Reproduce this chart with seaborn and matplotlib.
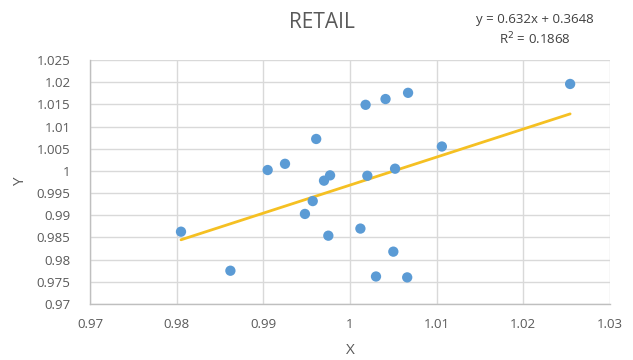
import matplotlib
matplotlib.use("Agg")
import matplotlib.pyplot as plt
import seaborn as sns
import numpy as np
import pandas as pd

# Observations
x_vals = [0.9805, 0.9862, 0.9905, 0.9925, 0.9948, 0.9957, 0.9961, 0.9970, 0.9977,
          0.9975, 1.0012, 1.0018, 1.0020, 1.0030, 1.0041, 1.0052, 1.0050, 1.0067,
          1.0066, 1.0106, 1.0254]
y_vals = [0.9863, 0.9775, 1.0002, 1.0016, 0.9903, 0.9932, 1.0072, 0.9978, 0.9990,
          0.9854, 0.9870, 1.0149, 0.9989, 0.9762, 1.0162, 1.0005, 0.9818, 1.0176,
          0.9760, 1.0055, 1.0196]

# Linear trendline coefficients
slope = 0.632
intercept = 0.3648
r_squared = 0.1868

x_ticks = [0.97, 0.98, 0.99, 1.00, 1.01, 1.02, 1.03]
x_tick_labels = ["0.97", "0.98", "0.99", "1", "1.01", "1.02", "1.03"]
y_ticks = [0.97, 0.975, 0.98, 0.985, 0.99, 0.995, 1.0, 1.005, 1.01, 1.015, 1.02, 1.025]
y_tick_labels = ["0.97", "0.975", "0.98", "0.985", "0.99", "0.995", "1", "1.005",
                 "1.01", "1.015", "1.02", "1.025"]

sns.set_theme(style="white")
plt.rcParams["font.family"] = ["Open Sans", "DejaVu Sans"]

text_color = "#595959"
grid_color = "#D9D9D9"

df = pd.DataFrame({"X": x_vals, "Y": y_vals})
trend_x = np.array([min(x_vals), max(x_vals)])
trend = pd.DataFrame({"X": trend_x, "Y": slope * trend_x + intercept})

fig = plt.figure(figsize=(6.33, 3.6), dpi=100)
ax = fig.add_axes([90 / 633, 1 - 304 / 360, (610 - 90) / 633, (304 - 60) / 360])

sns.lineplot(data=trend, x="X", y="Y", ax=ax, color="#F5C022", linewidth=2.0, zorder=2)
sns.scatterplot(data=df, x="X", y="Y", ax=ax, color="#5B9BD5", s=55,
                edgecolor="none", zorder=3)

ax.set_xlim(0.97, 1.03)
ax.set_ylim(0.97, 1.025)
ax.set_xticks(x_ticks)
ax.set_xticklabels(x_tick_labels)
ax.set_yticks(y_ticks)
ax.set_yticklabels(y_tick_labels)
ax.grid(True, color=grid_color, linewidth=1.0, zorder=0)
ax.set_axisbelow(True)
for name, sp in ax.spines.items():
    if name in ("left", "bottom"):
        sp.set_color("#BFBFBF")
        sp.set_linewidth(1.0)
    else:
        sp.set_visible(False)
ax.tick_params(axis="y", length=0, labelsize=9.5, colors=text_color, pad=14)
ax.tick_params(axis="x", length=0, labelsize=9.5, colors=text_color, pad=10)

ax.set_xlabel("X", fontsize=11, color=text_color, labelpad=9)
ax.set_ylabel("Y", fontsize=11, color=text_color, labelpad=6)

fig.text(322 / 633, 1 - 22 / 360, "RETAIL", ha="center", va="center",
         fontsize=15, color=text_color)
fig.text(535 / 633, 1 - 20 / 360, f"y = {slope}x + {intercept}", ha="center",
         va="center", fontsize=9.5, color="#404040")
fig.text(535 / 633, 1 - 39 / 360, f"R$^2$ = {r_squared}", ha="center",
         va="center", fontsize=9.5, color="#404040")

fig.savefig("out.png", dpi=100, facecolor="white")
